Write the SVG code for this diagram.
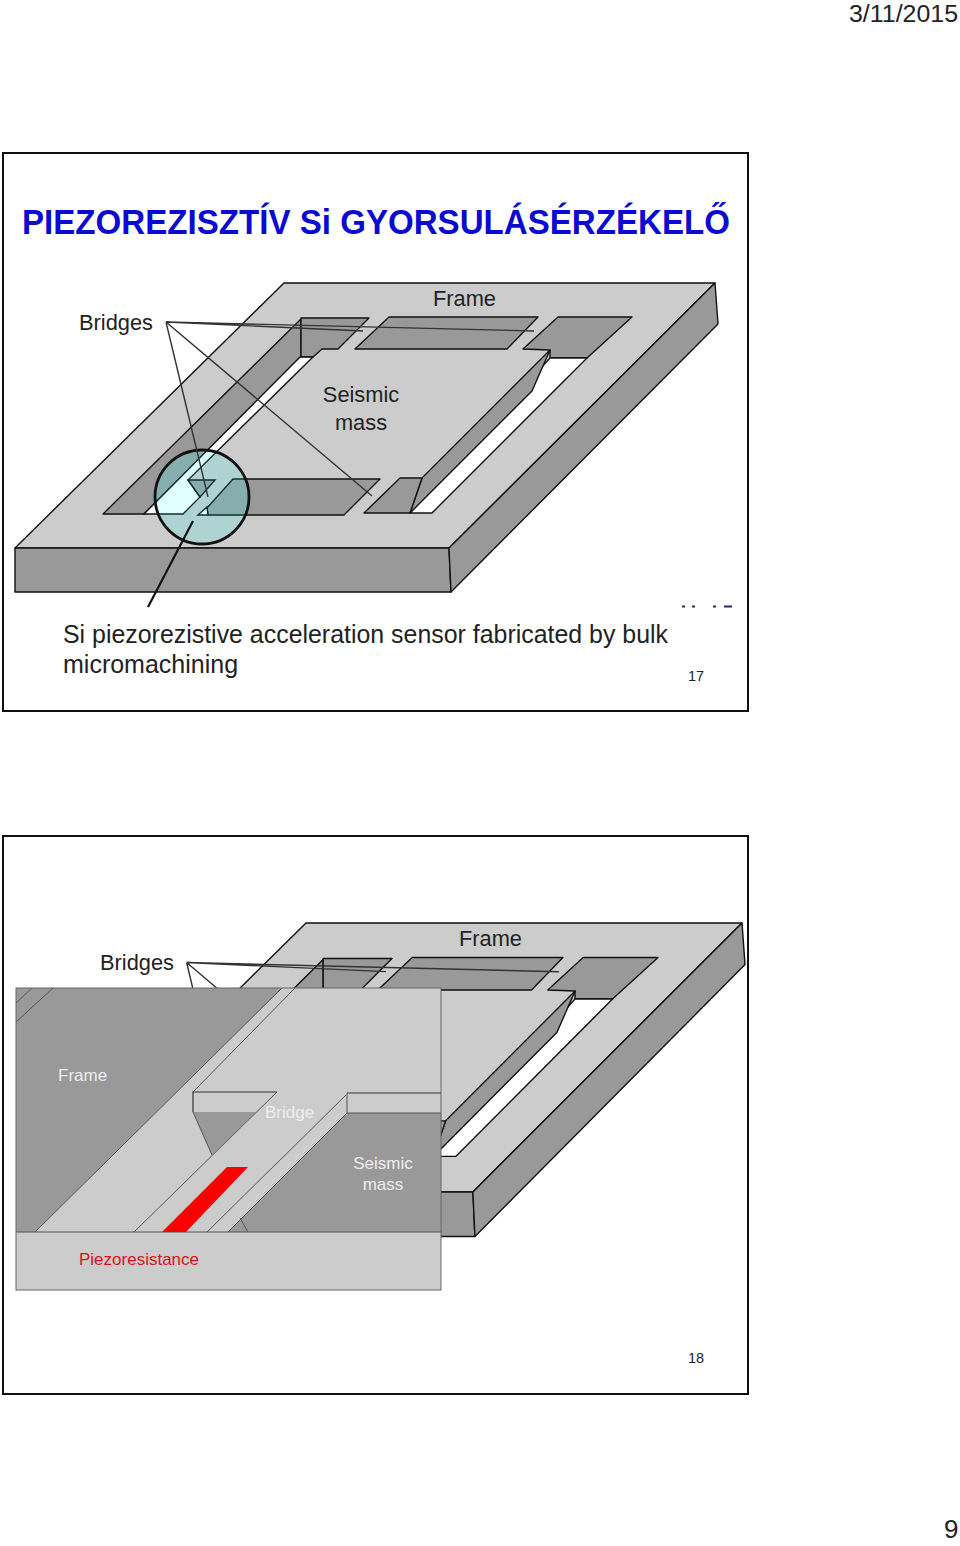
<svg xmlns="http://www.w3.org/2000/svg" xmlns:xlink="http://www.w3.org/1999/xlink" width="960" height="1546" viewBox="0 0 960 1546">
<style>
text{font-family:"Liberation Sans",Arial,sans-serif}
.slide{fill:#fff;stroke:#111;stroke-width:2}
.top{fill:#ccc;stroke:#111;stroke-width:1.4;stroke-linejoin:round}
.dk{fill:#999;stroke:#111;stroke-width:1.4;stroke-linejoin:round}
.hole{fill:#fff;stroke:#111;stroke-width:1.4;stroke-linejoin:round}
.tdk{fill:#86aeae;stroke:#0f3030;stroke-width:1.4}
.twh{fill:#e0ffff;stroke:#0f3030;stroke-width:1.4}
.lead{fill:none;stroke:#333;stroke-width:1.4}
.lbl{fill:#222;font-size:21.8px}
.ov{fill:none;stroke:#555;stroke-width:1}
.ovt{fill:#eee;font-size:17px}
.num{fill:#222;font-size:14.5px}
</style>
<defs>
<clipPath id="lens"><circle cx="202" cy="497" r="47"/></clipPath>
<g id="device">
<polygon class="top" points="284,283 715,283 449,548 15,548"/>
<polygon class="dk" points="15,548 449,548 451,592 15,592"/>
<polygon class="dk" points="715,283 718,324 451,592 449,548"/>
<polygon class="dk" points="301,319 103,514 144,514 301,357"/>
<polygon class="dk" points="301,318 369,318 338,349 322,349 313,357 301,357"/>
<polygon class="hole" points="300,357 313,357 188,480 200,497 183,514 144,514"/>
<polygon class="dk" points="188,480 215,480 200,497"/>
<polygon class="dk" points="233,479 380,479 344,515 208,515 207,508"/>
<polygon class="hole" points="198,515 208,515 207,507"/>
<polygon class="dk" points="389,317 538,317 507,349 355,349"/>
<polygon class="dk" points="558,317 632,317 587,358 550,358 550,350 523,349"/>
<polygon class="hole" points="550,358 587,358 432,513 410,513"/>
<polygon class="dk" points="550,350 532,391 410,513 422,478"/>
<polygon class="dk" points="400,478 422,478 410,513 364,513"/>
<g clip-path="url(#lens)">
<circle cx="202" cy="497" r="47" fill="#afd3d3"/>
<polygon class="tdk" points="301,319 103,514 144,514 301,357"/>
<polygon class="twh" points="300,357 313,357 188,480 200,497 183,514 144,514"/>
<polygon class="tdk" points="188,480 215,480 200,497"/>
<polygon class="tdk" points="233,479 380,479 344,515 208,515 207,508"/>
<polygon class="twh" points="198,515 208,515 207,507"/>
</g>
<circle cx="202" cy="497" r="47" fill="none" stroke="#111" stroke-width="2.8"/>
<g>
<path class="lead" d="M166,322 L208,497 M166,322 L372,496 M166,322 L363,331 M166,322 L534,331"/>
<path d="M148,607 L193,521" fill="none" stroke="#111" stroke-width="2.2"/>
</g>
</g>
</defs>
<rect width="960" height="1546" fill="#fff"/>
<text id="date" x="849" y="22" font-size="24.6" fill="#222" textLength="109" lengthAdjust="spacingAndGlyphs">3/11/2015</text>
<g id="slide17">
<rect class="slide" x="3" y="153" width="745" height="558"/>
<text x="22" y="234" font-size="35" font-weight="bold" fill="#0a0ad0" textLength="708" lengthAdjust="spacingAndGlyphs">PIEZOREZISZTÍV Si GYORSULÁSÉRZÉKELŐ</text>
<g id="device-17"><use xlink:href="#device" href="#device"/></g>
<text class="lbl" x="79" y="330">Bridges</text>
<text class="lbl" x="433" y="306">Frame</text>
<text class="lbl" x="361" y="402" text-anchor="middle">Seismic</text>
<text class="lbl" x="361" y="430" text-anchor="middle">mass</text>
<path d="M682,606.5h3M692,606.5h3M713,606.5h3M724,606.5h8" stroke="#1a2f66" stroke-width="2" fill="none"/>
<text x="63" y="643" font-size="25" fill="#222" textLength="605" lengthAdjust="spacingAndGlyphs">Si piezorezistive acceleration sensor fabricated by bulk</text>
<text x="63" y="673" font-size="25" fill="#222">micromachining</text>
<text class="num" x="688" y="681">17</text>
</g>
<g id="slide18">
<rect class="slide" x="3" y="836" width="745" height="558"/>
<g id="device-18"><use xlink:href="#device" href="#device" transform="translate(18.7 635.7) scale(1.0116 1.015)"/></g>
<text class="lbl" x="100" y="970">Bridges</text>
<text class="lbl" x="459" y="946">Frame</text>
<g id="detail">
<rect x="16" y="988" width="425" height="302" fill="#ccc"/>
<polygon points="16,988 282,988 35,1232 16,1232" fill="#999"/>
<polygon points="347,1113 441,1113 441,1232 228,1232" fill="#999"/>
<polygon points="193,1112 256,1112 212,1155" fill="#999"/>
<path class="ov" d="M282,988 L35,1232 M295,988 L193,1092 M277,1092 L134,1232 M346,1095 L207,1232 M347,1113 L228,1232 M240,1218 L248,1232 M32,988 L16,1003 M53,988 L16,1022 M16,1232 H441 M347,1093 V1113 M347,1113 H441 M193,1112 L212,1155"/>
<path d="M193,1112 V1092 H277 M347,1093 H441" fill="none" stroke="#333" stroke-width="1.2"/>
<polygon points="227,1167 248,1167 186,1232 162,1232" fill="#f00"/>
<rect x="16" y="988" width="425" height="302" fill="none" stroke="#666" stroke-width="1"/>
<text class="ovt" x="58" y="1081">Frame</text>
<text class="ovt" x="265" y="1118">Bridge</text>
<text class="ovt" x="383" y="1169" text-anchor="middle">Seismic</text>
<text class="ovt" x="383" y="1190" text-anchor="middle">mass</text>
<text x="79" y="1265" font-size="17" fill="#e0101a">Piezoresistance</text>
</g>
<text class="num" x="688" y="1363">18</text>
</g>
<text id="page" x="944" y="1538" font-size="26" fill="#222">9</text>
</svg>
